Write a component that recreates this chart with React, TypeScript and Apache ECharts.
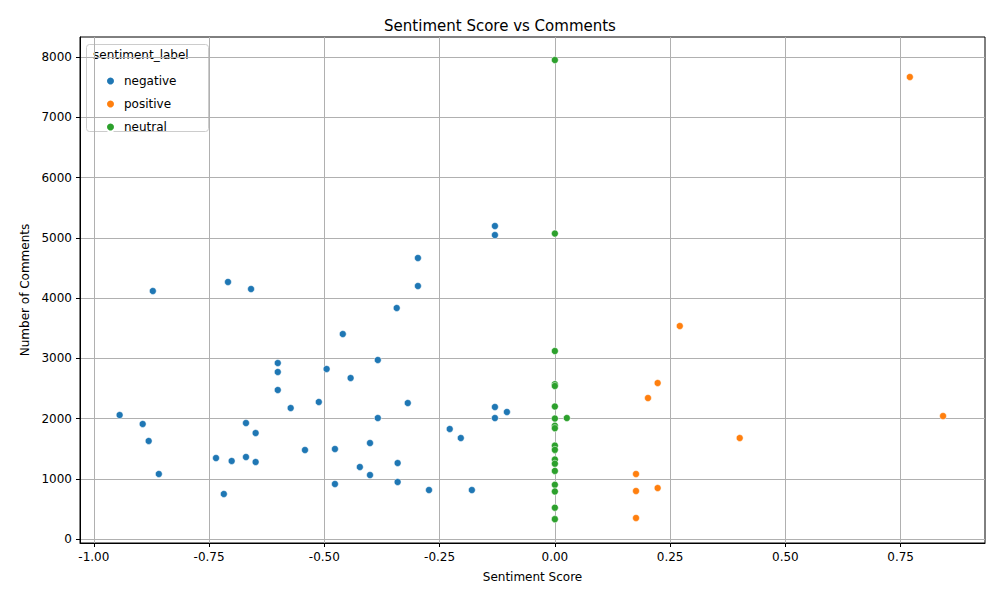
import React, { useEffect, useRef } from 'react';
import * as echarts from 'echarts';

const negative: [number, number][] = [
  [-0.13, 5195], [-0.13, 5045], [-0.297, 4664], [-0.709, 4266], [-0.659, 4149], [-0.872, 4116],
  [-0.297, 4199], [-0.343, 3834], [-0.46, 3402], [-0.601, 2921], [-0.384, 2971], [-0.601, 2772],
  [-0.495, 2822], [-0.443, 2672], [-0.601, 2473], [-0.512, 2274], [-0.573, 2174], [-0.319, 2257],
  [-0.13, 2191], [-0.104, 2108], [-0.944, 2058], [-0.894, 1909], [-0.384, 2008], [-0.13, 2008],
  [-0.67, 1925], [-0.228, 1826], [-0.649, 1759], [-0.204, 1676], [-0.881, 1627], [-0.401, 1593],
  [-0.542, 1477], [-0.477, 1494], [-0.735, 1344], [-0.67, 1361], [-0.701, 1295], [-0.649, 1278],
  [-0.341, 1261], [-0.423, 1195], [-0.859, 1079], [-0.401, 1062], [-0.341, 946], [-0.477, 913],
  [-0.273, 813], [-0.18, 813], [-0.718, 747],
];
const positive: [number, number][] = [
  [0.77, 7668], [0.271, 3535], [0.223, 2589], [0.202, 2340], [0.842, 2041],
  [0.401, 1676], [0.176, 1079], [0.223, 846], [0.176, 797], [0.176, 349],
];
const neutral: [number, number][] = [
  [0, 7950], [0, 5070], [0, 3120], [0, 2570], [0, 2540], [0, 2200], [0, 2000], [0, 1880],
  [0, 1840], [0, 1550], [0, 1480], [0, 1320], [0, 1250], [0, 1130], [0, 900], [0, 790],
  [0, 520], [0, 330], [0.026, 2008],
];
const xTicks = [-1, -0.75, -0.5, -0.25, 0, 0.25, 0.5, 0.75];
const yTicks = [0, 1000, 2000, 3000, 4000, 5000, 6000, 7000, 8000];

const colors = ['#1f77b4', '#ff7f0e', '#2ca02c'];
const font = 'DejaVu Sans';

const App: React.FC = () => {
  const ref = useRef<HTMLDivElement>(null);

  useEffect(() => {
    if (!ref.current) return;
    const chart = echarts.init(ref.current, undefined, { renderer: 'svg' });
    const axisCommon = {
      axisTick: { lineStyle: { color: '#000' }, length: 4 },
      axisLabel: { color: '#000', fontFamily: font, fontSize: 12 },
      splitLine: { show: true, lineStyle: { color: '#b0b0b0', width: 1 } },
      nameTextStyle: { color: '#000', fontFamily: font, fontSize: 12 },
    };
    const mk = (name: string, data: [number, number][], color: string) => ({
      name,
      type: 'scatter',
      data,
      symbolSize: 7,
      itemStyle: { color, borderColor: '#fff', borderWidth: 0.5, opacity: 1 },
    });
    chart.setOption({
      animation: false,
      title: {
        text: 'Sentiment Score vs Comments',
        left: 'center',
        top: 13,
        textStyle: { fontFamily: font, fontSize: 15, fontWeight: 'normal', color: '#000' },
      },
      grid: { left: 80, right: 15, top: 37, bottom: 57, show: true, borderColor: '#000', borderWidth: 1 },
      xAxis: {
        type: 'value',
        min: -1.03,
        max: 0.933,
        name: 'Sentiment Score',
        nameLocation: 'middle',
        nameGap: 28,
        ...axisCommon,
        axisLine: { show: true, onZero: false, lineStyle: { color: '#000' } },
        axisTick: { ...axisCommon.axisTick, customValues: xTicks },
        axisLabel: { ...axisCommon.axisLabel, customValues: xTicks, formatter: (v: number) => v.toFixed(2) },
      },
      yAxis: {
        type: 'value',
        min: -66,
        max: 8332,
        name: 'Number of Comments',
        nameLocation: 'middle',
        nameGap: 48,
        ...axisCommon,
        axisLine: { show: true, onZero: false, lineStyle: { color: '#000' } },
        axisTick: { ...axisCommon.axisTick, customValues: yTicks },
        axisLabel: { ...axisCommon.axisLabel, customValues: yTicks, formatter: (v: number) => String(v) },
      },
      legend: {
        orient: 'vertical',
        left: 100,
        top: 70,
        itemWidth: 9,
        itemHeight: 9,
        itemGap: 11,
        icon: 'circle',
        textStyle: { fontFamily: font, fontSize: 12, color: '#000', padding: [0, 0, 0, 4] },
        data: ['negative', 'positive', 'neutral'],
      },
      graphic: [
        {
          type: 'rect',
          left: 86,
          top: 44,
          shape: { width: 122, height: 87, r: 3 },
          style: { fill: 'rgba(255,255,255,0.8)', stroke: '#ccc' },
          z: -1,
        },
        {
          type: 'text',
          left: 93,
          top: 49,
          style: { text: 'sentiment_label', fontFamily: font, fontSize: 12, fill: '#000' },
        },
      ],
      series: [
        mk('negative', negative, colors[0]),
        mk('positive', positive, colors[1]),
        mk('neutral', neutral, colors[2]),
      ],
    });
    return () => chart.dispose();
  }, []);

  return <div ref={ref} style={{ width: 1000, height: 600, margin: -8 }} />;
};

export default App;
